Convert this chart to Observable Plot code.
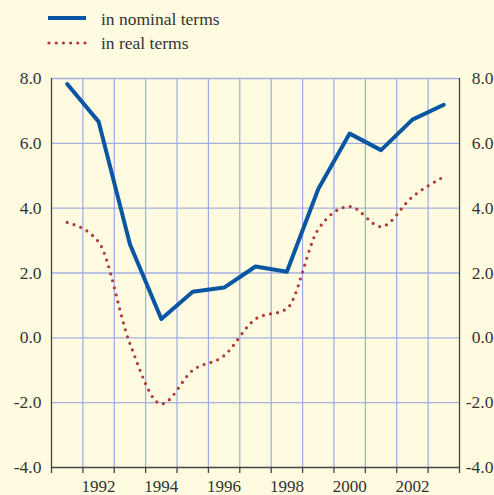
<!DOCTYPE html>
<html>
<head>
<meta charset="utf-8">
<script src="https://cdn.jsdelivr.net/npm/d3@7"></script>
<script src="https://cdn.jsdelivr.net/npm/@observablehq/plot@0.6"></script>
<style>
  html, body { margin: 0; padding: 0; background: #fefbe0; }
  #wrap { width: 494px; height: 495px; position: relative; background: #fefbe0; font-family: "Liberation Serif", "Times New Roman", "DejaVu Serif", serif; }
  #legend { height: 60px; position: relative; }
  .lg { position: absolute; left: 101px; font-size: 17.5px; line-height: 20px; color: #333; font-family: "Liberation Serif", "Times New Roman", serif; }
  svg { display: block; }
  #chart svg text { font-family: "Liberation Serif", "Times New Roman", serif; }
</style>
</head>
<body>
<div id="wrap">
  <div id="legend">
    <svg width="100" height="60" style="position:absolute;left:0;top:0">
      <line x1="48" x2="86" y1="18" y2="18" stroke="#0a56a2" stroke-width="4"/>
      <line x1="49" x2="86" y1="43" y2="43" stroke="#b03a36" stroke-width="3.2" stroke-dasharray="0 7.2" stroke-linecap="round"/>
    </svg>
    <div class="lg" style="top:9px">in nominal terms</div>
    <div class="lg" style="top:33px">in real terms</div>
  </div>
  <div id="chart"></div>
</div>
<script>
const years = [1991, 1992, 1993, 1994, 1995, 1996, 1997, 1998, 1999, 2000, 2001, 2002, 2003];
const nominal = [7.83, 6.67, 2.89, 0.58, 1.42, 1.55, 2.2, 2.04, 4.59, 6.3, 5.79, 6.73, 7.19];
const real = [3.56, 2.96, -0.18, -2.04, -1.0, -0.55, 0.58, 0.9, 3.35, 4.05, 3.43, 4.35, 4.97];
const yTicks = [-4, -2, 0, 2, 4, 6, 8];
const labelYears = [1992, 1994, 1996, 1998, 2000, 2002];

const nomData = years.map((y, i) => ({year: y, value: nominal[i]}));
const realData = years.map((y, i) => ({year: y, value: real[i]}));
const bounds = years.map(y => y - 0.5).concat([years[years.length - 1] + 0.5]);
const innerBounds = bounds.slice(1, -1);

const chart = Plot.plot({
  width: 494,
  height: 435,
  marginTop: 18,
  marginBottom: 28,
  marginLeft: 51,
  marginRight: 35,
  style: {background: "#fefbe0", fontFamily: "'Liberation Serif', 'Times New Roman', serif", fontSize: "17px", color: "#333", overflow: "visible"},
  x: {domain: [bounds[0], bounds[bounds.length - 1]], label: null},
  y: {domain: [-4, 8], label: null},
  marks: [
    Plot.ruleY(yTicks.filter(d => d > -4), {stroke: "#a3b0df", strokeWidth: 1.3}),
    Plot.ruleX(innerBounds, {stroke: "#9aaae6", strokeWidth: 1.2}),
    Plot.ruleX([bounds[0], bounds[bounds.length - 1]], {stroke: "#444", strokeWidth: 1.3}),
    Plot.ruleY([-4], {stroke: "#444", strokeWidth: 1.3}),
    Plot.axisX(bounds, {tickSize: 6, tickFormat: () => "", label: null, stroke: "#444", strokeWidth: 1.3}),
    Plot.axisX(labelYears, {tickSize: 0, tickPadding: 12, tickFormat: d => String(d), label: null, fontSize: 17, fill: "#333"}),
    Plot.axisY(yTicks, {anchor: "left", tickSize: 0, tickPadding: 10, tickFormat: d => d.toFixed(1), label: null, fontSize: 17.5, fill: "#333"}),
    Plot.axisY(yTicks, {anchor: "right", tickSize: 0, tickPadding: 34, textAnchor: "end", tickFormat: d => d.toFixed(1), label: null, fontSize: 17.5, fill: "#333"}),
    Plot.line(realData, {x: "year", y: "value", curve: "monotone-x", stroke: "#b03a36", strokeWidth: 3.2, strokeDasharray: "0 7.2", strokeLinecap: "round"}),
    Plot.line(nomData, {x: "year", y: "value", stroke: "#0a56a2", strokeWidth: 4})
  ]
});
document.getElementById("chart").appendChild(chart);
</script>
</body>
</html>
